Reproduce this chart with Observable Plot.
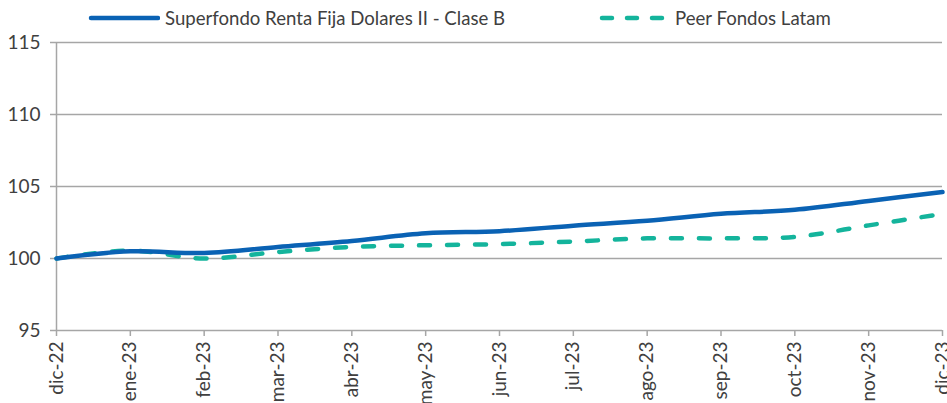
<!DOCTYPE html>
<html>
<head>
<meta charset="utf-8">
<script src="https://cdn.jsdelivr.net/npm/d3@7"></script>
<script src="https://cdn.jsdelivr.net/npm/@observablehq/plot@0.6"></script>
<style>
  body { margin: 0; background: #fff; }
  #wrap { position: relative; width: 947px; height: 403px; font-family: Lato, sans-serif; overflow: hidden; }
  .leg { position: absolute; top: 5px; display: flex; align-items: center; font-size: 18.6px; color: #404040; white-space: nowrap; }
  .leg svg { margin-right: 5px; }
  #chart { position: absolute; left: 0; top: 0; }
</style>
</head>
<body>
<div id="wrap">
  <div id="chart"></div>
  <div class="leg" style="left:88px"><svg width="72" height="26"><line x1="3" y1="13" x2="70" y2="13" stroke="#0A62B4" stroke-width="4.5" stroke-linecap="round"/></svg>Superfondo Renta Fija Dolares II - Clase B</div>
  <div class="leg" style="left:598px"><svg width="72" height="26"><line x1="4" y1="13" x2="70" y2="13" stroke="#14B49C" stroke-width="4.5" stroke-linecap="round" stroke-dasharray="10 15"/></svg>Peer Fondos Latam</div>
</div>
<script>
const months = ["dic-22","ene-23","feb-23","mar-23","abr-23","may-23","jun-23","jul-23","ago-23","sep-23","oct-23","nov-23","dic-23"];
const fondo = [100, 100.5, 100.38, 100.8, 101.22, 101.75, 101.9, 102.28, 102.62, 103.1, 103.38, 104.0, 104.62];
const peer  = [100, 100.55, 100.0, 100.45, 100.8, 100.92, 101.0, 101.18, 101.4, 101.4, 101.5, 102.3, 103.1];
const yTicks = [95, 100, 105, 110, 115];
const gridValues = [100, 105, 110, 115];

const rows = (vals) => months.map((m, i) => ({month: m, value: vals[i]}));

const chart = Plot.plot({
  width: 947,
  height: 403,
  marginTop: 42,
  marginBottom: 73,
  marginLeft: 56,
  marginRight: 5,
  style: {fontFamily: "Lato, sans-serif", color: "#404040", background: "transparent", overflow: "visible"},
  x: {type: "point", domain: months, padding: 0, round: false, range: [56, 942]},
  y: {domain: [95, 115], range: [330, 42]},
  marks: [
    Plot.ruleY(gridValues, {stroke: "#a6a6a6", strokeWidth: 1.5}),
    Plot.ruleY([95], {stroke: "#a6a6a6", strokeWidth: 1.5}),
    Plot.ruleX([months[0]], {stroke: "#a6a6a6", strokeWidth: 1.5}),
    Plot.axisY({ticks: yTicks, tickSize: 6, tickPadding: 10, stroke: "#a6a6a6", fill: "#404040", fontSize: 19, label: null, strokeWidth: 1.5}),
    Plot.axisX({tickRotate: -90, tickSize: 6, tickPadding: 5, stroke: "#a6a6a6", fill: "#404040", fontSize: 19, label: null, strokeWidth: 1.5}),
    Plot.line(rows(peer), {x: "month", y: "value", stroke: "#14B49C", strokeWidth: 4.5, strokeDasharray: "11 17", strokeLinecap: "round", curve: "catmull-rom"}),
    Plot.line(rows(fondo), {x: "month", y: "value", stroke: "#0A62B4", strokeWidth: 4.5, curve: "catmull-rom"})
  ]
});
document.getElementById("chart").appendChild(chart);
</script>
</body>
</html>
